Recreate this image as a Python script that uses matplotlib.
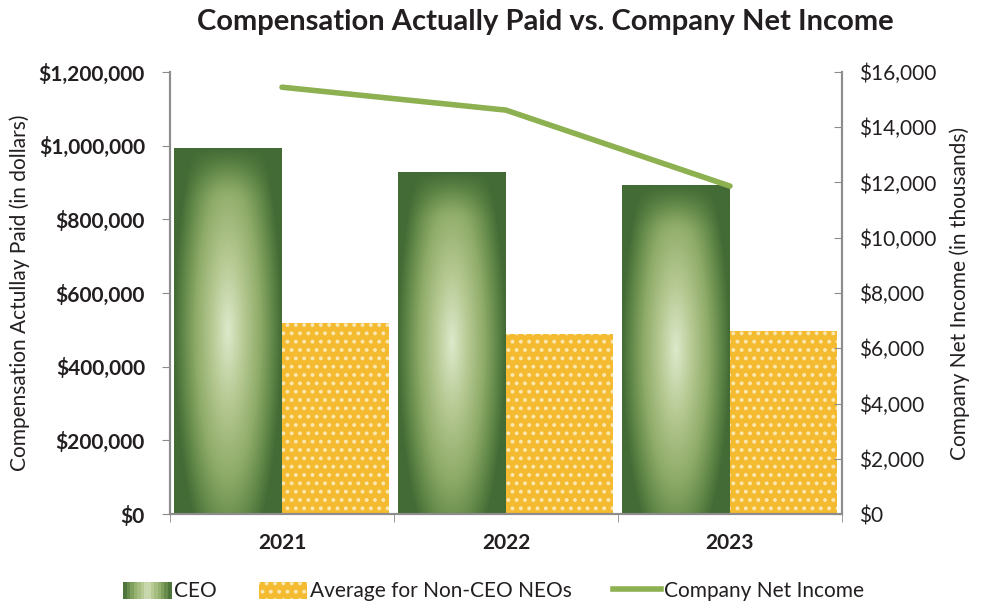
import numpy as np
import matplotlib
matplotlib.use("Agg")
import matplotlib.pyplot as plt
from matplotlib.colors import LinearSegmentedColormap
from matplotlib.patches import Rectangle
from matplotlib.lines import Line2D
from matplotlib.legend_handler import HandlerBase

# =========================
# DATA
# =========================
years = ["2021", "2022", "2023"]
ceo_cap = [994000, 929000, 893000]
neo_cap = [518000, 489000, 497000]
net_income = [15450, 14620, 11870]  # in thousands

left_ticks = [0, 200000, 400000, 600000, 800000, 1000000, 1200000]
right_ticks = [0, 2000, 4000, 6000, 8000, 10000, 12000, 14000, 16000]

# =========================
# STYLE
# =========================
plt.rcParams['font.family'] = ['Lato', 'DejaVu Sans']
plt.rcParams['hatch.linewidth'] = 1.6

GOLD = "#f4ba30"
LINE_GREEN = "#8db050"
SPINE = "#8c8c8c"
TEXT = "#231f20"

green_cmap = LinearSegmentedColormap.from_list(
    "tube", [(0.0, "#dde9cb"), (0.3, "#b6c992"), (0.6, "#8eab68"), (0.85, "#5e8546"), (1.0, "#436b35")])


def tube_image(n=200):
    xx, yy = np.meshgrid(np.linspace(0, 1, n), np.linspace(0, 1, n))
    # yy = 0 at top of the bar, brightest spot around the middle
    h = np.abs(xx - 0.5) * 2
    v = np.abs(yy - 0.5) * 2
    d = np.sqrt(h ** 2 + (0.75 * v) ** 2)
    # soft dark band along the top edge
    top = np.clip(1 - yy / 0.14, 0, 1) ** 1.5
    d = d + (1 - d) * top
    return np.clip(d, 0, 1)


fig = plt.figure(figsize=(9.82, 6.05), dpi=100)
ax = fig.add_axes([0.1731, 0.1504, 0.6843, 0.7306])
ax2 = ax.twinx()

x = np.arange(len(years))
w = 0.48

img = tube_image()
for xi, v in zip(x, ceo_cap):
    rect = Rectangle((xi - w, 0), w, v, facecolor="none", edgecolor="none")
    ax.add_patch(rect)
    im = ax.imshow(img, cmap=green_cmap, vmin=0, vmax=1, aspect="auto",
                   extent=(xi - w, xi, 0, v), interpolation="bilinear", zorder=2)
    im.set_clip_path(rect)

ax.bar(x + w / 2, neo_cap, width=w, color=GOLD, edgecolor="#fbe7b0", linewidth=0,
       hatch="..", zorder=2)

ax2.plot(x, net_income, color=LINE_GREEN, linewidth=4, solid_capstyle="round", zorder=3)

ax.set_xlim(-0.5, 2.5)
ax.set_ylim(0, 1200000)
ax2.set_ylim(0, 16000)
ax.set_yticks(left_ticks)
ax.set_yticklabels([f"${v:,.0f}" for v in left_ticks], fontsize=15, fontweight="bold", color=TEXT)
ax2.set_yticks(right_ticks)
ax2.set_yticklabels([f"${v:,.0f}" for v in right_ticks], fontsize=15, color=TEXT)
ax.set_xticks(x)
ax.set_xticklabels(years, fontsize=15, fontweight="bold", color=TEXT)
ax.set_xticks([-0.5, 0.5, 1.5, 2.5], minor=True)
ax.tick_params(axis="x", which="major", length=0, pad=14)
ax.tick_params(axis="x", which="minor", length=6, color=SPINE, direction="out")
ax.tick_params(axis="y", length=6, color=SPINE, direction="out", pad=12)
ax2.tick_params(axis="y", length=6, color=SPINE, direction="in", pad=12)

for a in (ax, ax2):
    a.spines["top"].set_visible(False)
    for s in ("left", "right", "bottom"):
        a.spines[s].set_color(SPINE)
        a.spines[s].set_linewidth(1.5)

ax.set_ylabel("Compensation Actullay Paid (in dollars)", fontsize=15, labelpad=6, color=TEXT)
ax2.set_ylabel("Company Net Income (in thousands)", fontsize=15, labelpad=10, color=TEXT)

fig.suptitle("Compensation Actually Paid vs. Company Net Income",
             x=0.555, y=0.985, fontsize=21, fontweight="bold", color=TEXT)


class TubeHandler(HandlerBase):
    def create_artists(self, legend, orig_handle, xdescent, ydescent,
                       width, height, fontsize, trans):
        arts = []
        n = 14
        for i in range(n):
            t = abs((i + 0.5) / n - 0.5) * 2
            r = Rectangle((-xdescent + width * i / n, -ydescent), width / n + 0.3, height,
                          facecolor=green_cmap(0.1 + 0.9 * t), edgecolor="none",
                          transform=trans)
            arts.append(r)
        return arts


ceo_handle = Rectangle((0, 0), 1, 1)
neo_handle = Rectangle((0, 0), 1, 1, facecolor=GOLD, edgecolor="#fbe7b0", linewidth=0, hatch="..")
line_handle = Line2D([], [], color=LINE_GREEN, linewidth=4)

fig.legend([ceo_handle, neo_handle, line_handle],
           ["CEO", "Average for Non-CEO NEOs", "Company Net Income"],
           handler_map={ceo_handle: TubeHandler()},
           loc="lower center", bbox_to_anchor=(0.503, -0.025), ncol=3, frameon=False,
           fontsize=15, handlelength=2.3, handleheight=0.9, handletextpad=0.15,
           columnspacing=2.0, labelcolor=TEXT)

fig.savefig("out.png", dpi=100)
